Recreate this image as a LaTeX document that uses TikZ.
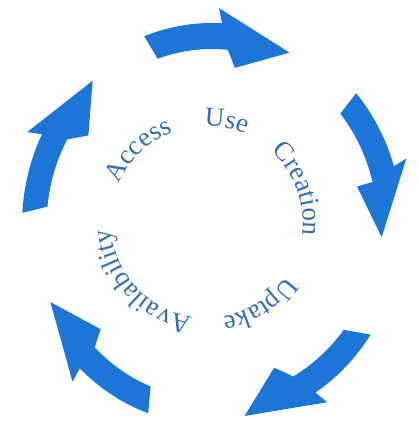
\documentclass[tikz,border=0pt]{standalone}
\usepackage{fontspec}
\setmainfont{Liberation Serif}
\usetikzlibrary{decorations.text}
\definecolor{arrowblue}{RGB}{28,118,216}
\definecolor{textblue}{RGB}{50,110,182}
\def\arcRo{201pt}
\def\arcRi{175pt}
\def\arcRbo{216pt}
\def\arcRbi{158pt}
\newcommand\wordfont{\fontsize{27pt}{32pt}\selectfont}
% #1 tail outer, #2 tail inner, #3 base outer, #4 base inner,
% #5 barb outer, #6 barb inner, #7 tip angle, #8 tip radius
\newcommand\cycarrow[8]{%
  \fill[arrowblue] (#1:\arcRo) arc[start angle=#1,end angle=#3,radius=\arcRo]
    -- (#5:\arcRbo) -- (#7:#8) -- (#6:\arcRbi) -- (#4:\arcRi)
    arc[start angle=#4,end angle=#2,radius=\arcRi] -- cycle;}
\newcommand\arcword[2]{%
  \path[decorate,decoration={text along path,text align=center,
    text={|\color{textblue}\wordfont|#2}}]
    (#1+55:96pt) arc[start angle=#1+55,end angle=#1-55,radius=96pt];}
\begin{document}
\begin{tikzpicture}
\useasboundingbox (0pt,0pt) rectangle (419pt,421pt);
\begin{scope}[shift={(212pt,197pt)},xscale=0.945]
  \cycarrow{110.9}{109.2}{87.0}{84.5}{88.0}{81.2}{64.4}{190pt}
  \cycarrow{40.6}{39.1}{16.7}{13.9}{17.7}{13.7}{-4.2}{180pt}
  \cycarrow{-33.4}{-37.2}{-57.0}{-60.6}{-55.6}{-65.4}{-79.8}{195pt}
  \cycarrow{-109.6}{-111.8}{-134.1}{-135.2}{-133.1}{-138.2}{-155.5}{188pt}
  \cycarrow{176.8}{174.3}{153.5}{151.1}{154.8}{145.9}{131.4}{191pt}
\end{scope}
\begin{scope}[shift={(207pt,199pt)}]
  \arcword{133.7}{Access}
  \arcword{79}{Use}
  \arcword{20}{Creation}
  \arcword{-57.5}{Uptake}
  \arcword{-137.5}{Availability}
\end{scope}
\end{tikzpicture}
\end{document}
